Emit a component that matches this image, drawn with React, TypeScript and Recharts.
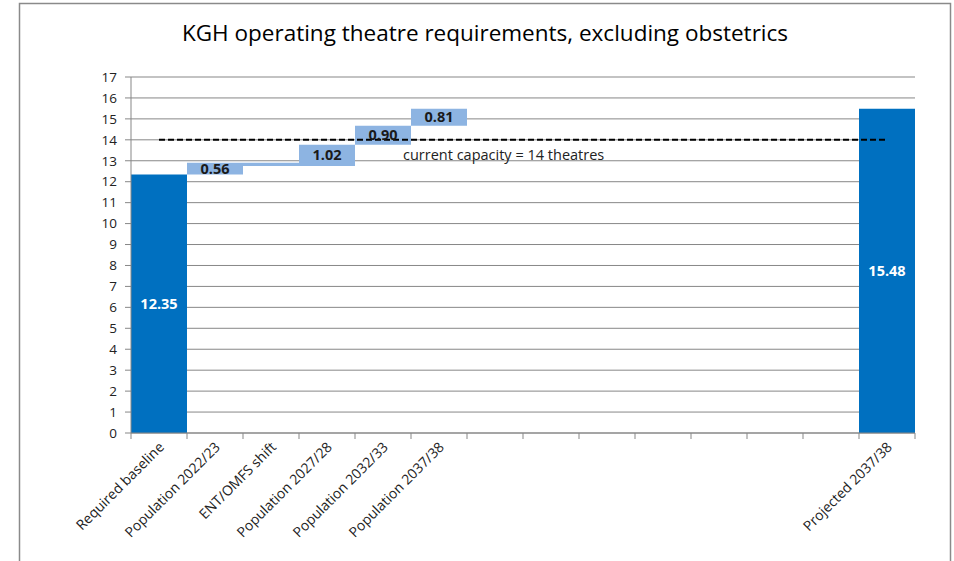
import { Bar, BarChart, CartesianGrid, LabelList, ReferenceLine, XAxis, YAxis } from 'recharts';

// categories along the x axis (blank slots keep Excel's spacing)
const CATEGORIES = [
  'Required baseline',
  'Population 2022/23',
  'ENT/OMFS shift',
  'Population 2027/28',
  'Population 2032/33',
  'Population 2037/38',
  '', '', '', '', '', '', '',
  'Projected 2037/38',
];

const BASELINE = 12.35;
// step changes for categories 1..5
const CHANGES = [0.56, -0.16, 1.02, 0.9, 0.81];
const CHANGE_LABELS = ['0.56', '', '1.02', '0.90', '0.81'];
const PROJECTED = 15.48;
const CAPACITY = 14;
const Y_TICKS = [0, 1, 2, 3, 4, 5, 6, 7, 8, 9, 10, 11, 12, 13, 14, 15, 16, 17];

const W = 954;
const H = 561;
const PLOT_LEFT = 131;
const PLOT_RIGHT = 915;
const BAND = (PLOT_RIGHT - PLOT_LEFT) / CATEGORIES.length;

const DARK = '#0070C0';
const LIGHT = '#8DB4E2';
const GRID = '#878787';
const FONT = '"Open Sans", sans-serif';

type Row = { key: number; base: number; step: number; total: number | null; label: string };

function buildRows(): Row[] {
  let level = BASELINE;
  return CATEGORIES.map((_, i) => {
    if (i === 0) return { key: i, base: 0, step: 0, total: BASELINE, label: '' };
    if (i === CATEGORIES.length - 1) return { key: i, base: 0, step: 0, total: PROJECTED, label: '' };
    const c = CHANGES[i - 1];
    if (c === undefined) return { key: i, base: 0, step: 0, total: null, label: '' };
    const row = { key: i, base: Math.min(level, level + c), step: Math.abs(c), total: null, label: CHANGE_LABELS[i - 1] };
    level += c;
    return row;
  });
}

const rows = buildRows();

function CategoryTick({ x, y, payload, index }: any) {
  const label = CATEGORIES[payload.value];
  const ax = x + 6;
  const ay = y + 15;
  return (
    <g>
      <line x1={x - BAND / 2} x2={x - BAND / 2} y1={y} y2={y + 6} stroke={GRID} />
      {index === CATEGORIES.length - 1 && (
        <line x1={x + BAND / 2} x2={x + BAND / 2} y1={y} y2={y + 6} stroke={GRID} />
      )}
      {label && (
        <text
          x={ax}
          y={ay}
          transform={`rotate(-45, ${ax}, ${ay})`}
          textAnchor="end"
          fontSize={14}
          fontFamily={FONT}
          fill="#222"
        >
          {label}
        </text>
      )}
    </g>
  );
}

function StepLabel({ x, y, width, height, value }: any) {
  if (!value) return null;
  return (
    <text
      x={x + width / 2}
      y={y + height / 2}
      dy={5}
      textAnchor="middle"
      fontSize={14.5}
      fontWeight="bold"
      fontFamily={FONT}
      fill="#1a1a1a"
    >
      {value}
    </text>
  );
}

function TotalLabel({ x, y, width, height, value }: any) {
  if (value == null) return null;
  return (
    <text
      x={x + width / 2}
      y={y + height / 2}
      dy={5}
      textAnchor="middle"
      fontSize={14.5}
      fontWeight="bold"
      fontFamily={FONT}
      fill="#fff"
    >
      {Number(value).toFixed(2)}
    </text>
  );
}

function CapacityLabel({ viewBox }: any) {
  return (
    <text x={viewBox.x + 244} y={viewBox.y + 20} fontSize={14.5} fontFamily={FONT} fill="#222">
      current capacity = {CAPACITY} theatres
    </text>
  );
}

export default function App() {
  return (
    <div style={{ position: 'absolute', left: 0, top: 0, width: W, height: H, overflow: 'hidden', background: '#fff' }}>
      <svg width={W} height={H} style={{ position: 'absolute', left: 0, top: 0 }}>
        <rect x={19.5} y={3.5} width={931} height={H + 20} fill="none" stroke="#8a8a8a" strokeWidth={1.5} />
        <text x={485} y={41} textAnchor="middle" fontSize={22.5} fontFamily={FONT} fill="#000">
          KGH operating theatre requirements, excluding obstetrics
        </text>
      </svg>
      <div style={{ position: 'absolute', left: 0, top: 0 }}>
        <BarChart
          width={W}
          height={H}
          data={rows}
          margin={{ top: 77, right: W - PLOT_RIGHT, bottom: 28, left: PLOT_LEFT - 40 }}
          barCategoryGap={0}
          barGap={0}
        >
          <CartesianGrid stroke={GRID} vertical={false} />
          <XAxis
            dataKey="key"
            type="category"
            height={100}
            interval={0}
            stroke={GRID}
            tickLine={false}
            tickSize={0}
            tickMargin={0}
            tick={<CategoryTick />}
          />
          <YAxis
            width={40}
            domain={[0, 17]}
            ticks={Y_TICKS}
            interval={0}
            stroke={GRID}
            tickSize={6}
            tickMargin={8}
            tick={{ fill: '#222', fontSize: 13.5, fontFamily: FONT }}
          />
          <Bar dataKey="base" stackId="w" fill="transparent" isAnimationActive={false} />
          <Bar dataKey="step" stackId="w" fill={LIGHT} isAnimationActive={false}>
            <LabelList dataKey="label" content={<StepLabel />} />
          </Bar>
          <Bar dataKey="total" stackId="w" fill={DARK} isAnimationActive={false}>
            <LabelList dataKey="total" content={<TotalLabel />} />
          </Bar>
          <ReferenceLine
            segment={[
              { x: 0, y: CAPACITY },
              { x: CATEGORIES.length - 1, y: CAPACITY },
            ]}
            stroke="#000"
            strokeWidth={2}
            strokeDasharray="6 3"
            label={<CapacityLabel />}
          />
        </BarChart>
      </div>
    </div>
  );
}
